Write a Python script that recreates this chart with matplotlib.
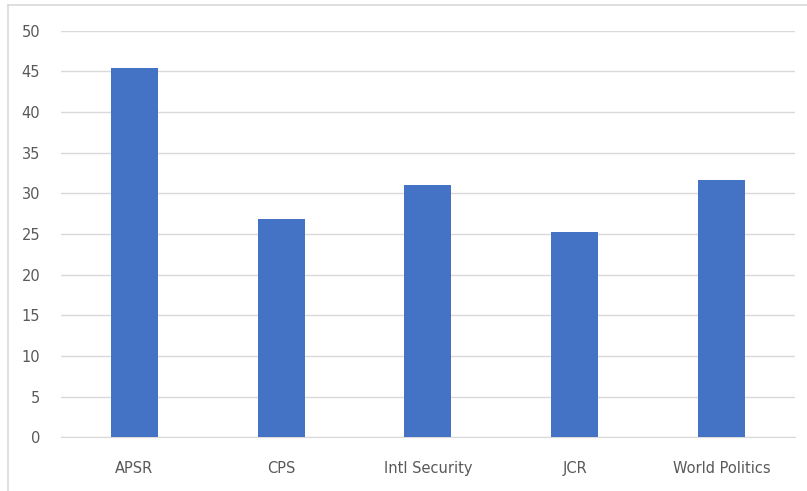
import matplotlib.pyplot as plt
from matplotlib.lines import Line2D

journals = ['APSR', 'CPS', 'Intl Security', 'JCR', 'World Politics']
values = [45.4, 26.85, 31.0, 25.2, 31.6]

fig = plt.figure(figsize=(8.07, 4.91), dpi=100)
ax = fig.add_axes([0.0756, 0.1094, 0.9094, 0.8281])

x = range(len(journals))
ax.bar(x, values, width=0.32, color='#4472C4', zorder=3)

ax.set_xlim(-0.5, len(journals) - 0.5)
ax.set_ylim(0, 50)
ax.set_yticks(range(0, 51, 5))
ax.set_xticks(list(x))
ax.set_xticklabels(journals)

ax.grid(axis='y', color='#D9D9D9', linewidth=1, zorder=0)
for side in ['top', 'right', 'left']:
    ax.spines[side].set_visible(False)
ax.spines['bottom'].set_color('#D9D9D9')
ax.tick_params(axis='both', length=0, colors='#595959', labelsize=10.5)
ax.tick_params(axis='x', pad=17)
ax.tick_params(axis='y', pad=15)

# light frame around the chart area (left and top edges visible)
fig.add_artist(Line2D([0.0105, 0.0105], [0.0, 0.99], color='#D9D9D9', lw=1.2,
                      transform=fig.transFigure))
fig.add_artist(Line2D([0.0105, 1.0], [0.99, 0.99], color='#D9D9D9', lw=1.2,
                      transform=fig.transFigure))

fig.savefig('out.png', dpi=100)
